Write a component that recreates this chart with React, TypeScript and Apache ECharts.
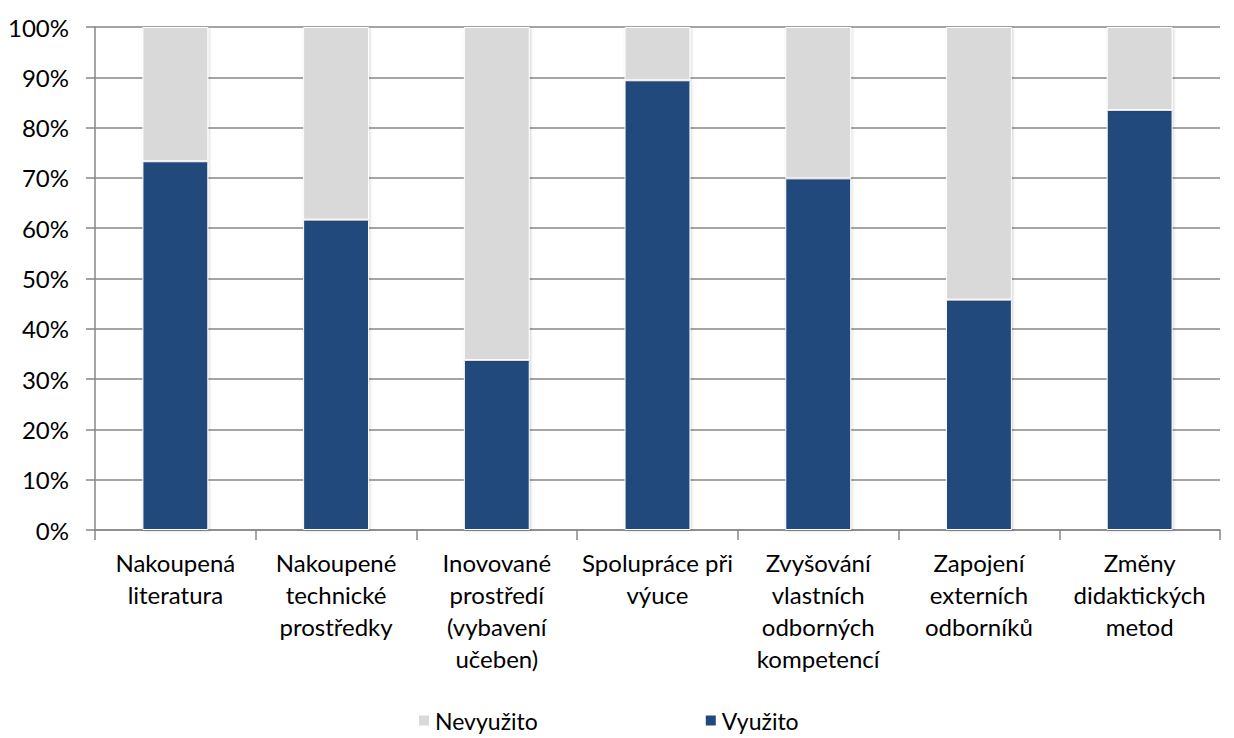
import React, { useEffect, useRef } from "react";
import * as echarts from "echarts";

const categories = [
  "Nakoupená\nliteratura",
  "Nakoupené\ntechnické\nprostředky",
  "Inovované\nprostředí\n(vybavení\nučeben)",
  "Spolupráce při\nvýuce",
  "Zvyšování\nvlastních\nodborných\nkompetencí",
  "Zapojení\nexterních\nodborníků",
  "Změny\ndidaktických\nmetod",
];
const vyuzito = [73.3, 61.7, 33.8, 89.4, 69.9, 45.8, 83.5];
const nevyuzito = [26.7, 38.3, 66.2, 10.6, 30.1, 54.2, 16.5];
const yTicks = { min: 0, max: 100, interval: 10 };

const FONT = "Lato, 'Noto Sans', sans-serif";
const GRID = "#878787";

export default function App() {
  const ref = useRef<HTMLDivElement>(null);
  useEffect(() => {
    if (!ref.current) return;
    const chart = echarts.init(ref.current, undefined, { renderer: "svg" });
    const barStyle = (color: string) => ({
      color,
      borderColor: "#ffffff",
      borderWidth: 1,
      shadowColor: "rgba(0,0,0,0.18)",
      shadowBlur: 3,
      shadowOffsetX: 1,
      shadowOffsetY: 1,
    });
    chart.setOption({
      animation: false,
      backgroundColor: "#ffffff",
      textStyle: { fontFamily: FONT },
      grid: { left: 95, right: 14, top: 27, bottom: 208, containLabel: false },
      legend: {
        data: ["Nevyužito", "Využito"],
        left: 412,
        top: 704,
        itemWidth: 12,
        itemHeight: 12,
        itemGap: 166,
        icon: "rect",
        textStyle: { fontSize: 23, color: "#000", fontFamily: FONT },
      },
      xAxis: {
        type: "category",
        data: categories,
        axisLine: { lineStyle: { color: GRID, width: 1.5 } },
        axisTick: { show: true, length: 10, lineStyle: { color: GRID, width: 1.5 } },
        axisLabel: {
          color: "#000",
          fontSize: 24,
          lineHeight: 32,
          margin: 16,
          interval: 0,
          fontFamily: FONT,
        },
      },
      yAxis: {
        type: "value",
        min: yTicks.min,
        max: yTicks.max,
        interval: yTicks.interval,
        axisLine: { show: true, lineStyle: { color: GRID, width: 1.5 } },
        axisTick: { show: true, length: 9, lineStyle: { color: GRID, width: 1.5 } },
        axisLabel: {
          color: "#000",
          fontSize: 24,
          margin: 26,
          formatter: "{value}%",
          fontFamily: FONT,
        },
        splitLine: { lineStyle: { color: GRID, width: 1.5 } },
      },
      series: [
        {
          name: "Využito",
          type: "bar",
          stack: "total",
          data: vyuzito,
          barWidth: "41%",
          itemStyle: barStyle("#20497b"),
        },
        {
          name: "Nevyužito",
          type: "bar",
          stack: "total",
          data: nevyuzito,
          barWidth: "41%",
          itemStyle: barStyle("#d9d9d9"),
        },
      ],
    });
    return () => chart.dispose();
  }, []);
  return (
    <div
      ref={ref}
      style={{ position: "fixed", left: 0, top: 0, width: 1234, height: 738, background: "#fff" }}
    />
  );
}
